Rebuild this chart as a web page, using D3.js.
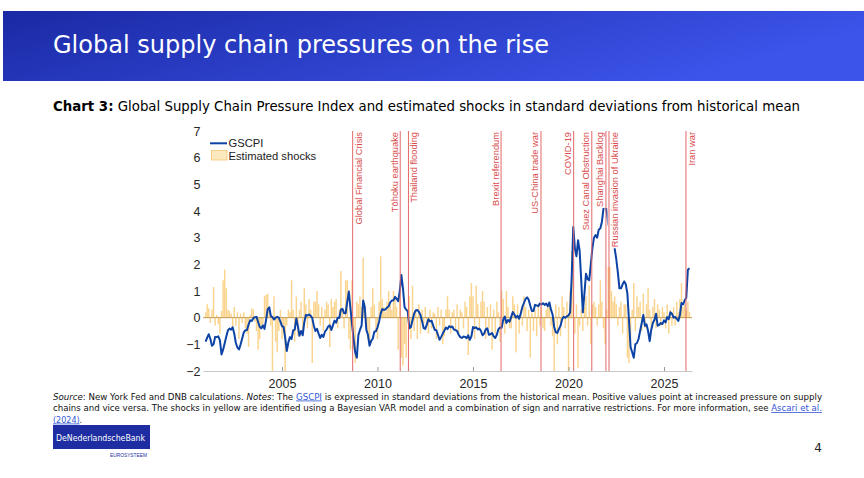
<!DOCTYPE html>
<html>
<head>
<meta charset="utf-8">
<script src="https://cdn.jsdelivr.net/npm/d3@7"></script>
<style>
  body { margin: 0; background: #fff; }
  svg { display: block; font-family: "Liberation Sans", Arial, sans-serif; }
</style>
</head>
<body>
<svg id="slide" width="864" height="478"></svg>
<script>
// monthly data, first value = Jan 2001
const startYear = 2001;

// GSCPI, one row per year
const gscpi = [
  -0.9, -0.75, -0.62, -0.8, -1.05, -1.0, -0.72, -0.73, -0.7, -0.85, -1.38, -1.2,
  -0.96, -0.71, -0.48, -0.41, -0.45, -0.36, -0.6, -0.95, -1.12, -1.19, -1.0, -0.78,
  -0.55, -0.47, -0.46, -0.26, -0.1, -0.12, -0.02, 0.02, 0.03, -0.16, -0.34, -0.4,
  -0.29, -0.42, -0.08, 0.31, 0.39, 0.06, 0.02, -0.07, 0.0, 0.03, 0.0, -0.15,
  -0.32, -0.35, -0.75, -1.25, -0.92, -0.73, -0.8, -0.48, -0.45, -0.03, -0.33, -0.68,
  -0.5, -0.66, -0.18, 0.1, 0.08, 0.12, 0.07, -0.01, -0.3, -0.5, -0.42, -0.6,
  -0.76, -0.64, -0.72, -0.52, -0.45, -0.33, -0.29, -0.46, -0.29, -0.11, -0.19, 0.0,
  -0.01, 0.3, 0.33, 0.17, 0.17, 0.6, 0.98, 0.35, -0.25, -0.8, -1.3, -1.5,
  -0.65, -0.45, -0.3, 0.64, 0.4, -0.46, -0.64, -1.05, -0.87, -0.79, -0.53, -0.51,
  -0.36, -0.15, 0.15, 0.32, 0.29, 0.31, 0.38, 0.42, 0.57, 0.64, 0.65, 0.78,
  0.71, 0.62, 1.0, 1.6, 1.1, 0.4, 0.3, 0.24, -0.4, -0.35, -0.1, 0.15,
  0.27, 0.29, 0.22, 0.1, -0.13, -0.39, -0.42, -0.25, -0.06, -0.14, -0.12, -0.3,
  -0.46, -0.47, -0.65, -0.83, -0.72, -0.6, -0.48, -0.37, -0.43, -0.32, -0.36, -0.33,
  -0.44, -0.47, -0.5, -0.64, -0.73, -0.76, -0.71, -0.72, -0.77, -0.66, -0.83, -0.7,
  -0.35, -0.39, -0.36, -0.44, -0.41, -0.5, -0.66, -0.6, -0.44, -0.4, -0.64, -0.62,
  -0.58, -0.7, -0.76, -0.63, -0.43, -0.37, -0.38, -0.07, 0.04, -0.2, -0.09, -0.15,
  0.03, 0.21, 0.12, 0.0, 0.07, -0.04, 0.15, 0.4, 0.55, 0.7, 0.76, 0.67,
  0.45, 0.25, 0.25, 0.48, 0.46, 0.43, 0.53, 0.49, 0.54, 0.48, 0.53, 0.43,
  0.57, 0.3, 0.12, -0.35, -0.55, -0.57, -0.42, -0.3, -0.06, 0.03, 0.0, 0.05,
  0.08, 0.2, 1.5, 3.4, 2.6, 2.3, 2.9, 2.5, 1.4, 0.2, 0.9, 1.65,
  1.45, 1.4, 2.0, 2.6, 3.0, 3.1, 3.0, 3.3, 3.35, 3.6, 4.1, 4.35,
  4.0, 3.5, 3.3, 3.2, 3.0, 2.6, 2.2, 1.7, 1.1, 1.1, 1.25, 1.36,
  1.25, 0.9, -0.1, -1.1, -1.3, -1.5, -1.0, -0.95, -0.8, -0.5, -0.2, 0.1,
  -0.3, -0.25, -0.5, -0.88, -0.45, -0.2, -0.08, 0.15, -0.3, -0.27, -0.2, -0.24,
  -0.1, -0.18, 0.02, -0.05, 0.2, 0.15, 0.0, 0.03, -0.04, -0.12, 0.1, 0.55,
  0.5, 0.65, 0.75, 1.8, 1.85
];

// estimated shocks, one row per year
const shocks = [
  0.2, 0.5, 0.35, -0.2, 0.3, 1.15, -0.3, 0.1, -0.25, -0.6, 0.25, 1.4,
  1.8, 1.1, 0.3, 0.25, 0.15, -0.4, 0.4, -0.3, 0.2, -0.8, 0.15, -0.2,
  0.2, -0.4, -0.6, -1.1, 0.1, 0.35, 0.3, -0.15, -0.5, -1.2, -0.8, -0.3,
  -0.25, 0.8, 0.85, 0.9, 0.4, -0.3, -2.0, 0.8, -0.9, -1.3, -0.5, 0.3,
  -0.8, -0.6, -2.0, -0.3, 0.3, 0.2, 1.4, 0.3, -0.9, 0.8, -0.7, 0.3,
  0.6, -0.6, 1.1, 0.5, -0.4, 0.7, 0.3, -1.7, 0.6, 0.6, 1.0, 0.5,
  -0.3, 0.4, -0.5, 0.3, 0.6, 0.5, -1.1, 0.7, 0.4, 0.6, 0.7, -0.4,
  0.3, 1.75, 0.3, -0.4, 1.4, 1.4, -0.8, -1.2, 1.4, -1.2, -1.7, 0.6,
  0.5, 0.8, 0.4, 2.25, 0.4, -0.3, -0.8, -0.9, 0.4, 1.1, 0.5, -0.5,
  -0.8, 0.6, 2.3, 0.7, 0.4, 0.2, 0.6, 1.0, 0.5, 0.3, 1.0, 0.8,
  0.4, -1.2, 0.9, -1.5, -1.8, -1.0, -1.5, 0.2, 0.8, -0.8, 1.2, -0.5,
  0.3, -0.8, 0.5, -0.6, 0.3, -0.2, 0.4, -0.3, -0.6, 0.3, -0.4, 0.2,
  0.15, -0.8, 0.4, -0.3, 0.3, -1.0, -0.7, 0.3, 0.8, 0.3, -0.6, 0.2,
  0.3, -0.5, 0.5, -0.6, 0.3, 0.2, -0.4, 0.6, 0.4, -1.4, 0.8, 1.3,
  0.8, -0.8, 1.2, 0.5, -0.4, 0.6, 1.0, 0.6, -0.8, 0.4, -0.4, 0.5,
  -1.2, 0.3, -0.6, 0.6, 0.2, -0.9, 1.0, 0.7, -0.6, 1.0, 0.4, -0.4,
  -0.4, 0.8, 0.5, -1.3, 0.5, -0.6, 0.3, -0.3, 0.8, 0.4, -0.5, 0.3,
  -1.5, 0.2, -0.5, 0.3, -0.7, 0.5, -0.3, 0.4, -0.4, -0.5, 0.3, 0.4,
  0.6, -0.3, -0.7, -2.0, 0.5, -1.0, 0.4, -0.7, 0.8, 0.4, -0.4, 0.6,
  -2.0, 1.0, 2.5, 1.5, -0.6, 0.5, -1.9, -0.3, 0.3, -0.5, 0.4, 0.8,
  -0.3, 1.2, -1.0, 0.5, 0.6, 0.4, -0.3, 0.5, 1.4, 0.6, -0.4, -1.0,
  0.3, 1.9, 1.9, 1.0, 0.6, 0.8, 0.5, -0.3, 0.4, 0.6, -0.6, 0.5,
  0.5, -1.5, -1.7, -0.8, 0.3, 1.3, -0.5, 0.8, 0.4, 0.6, -0.5, 0.9,
  -0.4, 0.5, 1.1, 0.3, -0.5, 0.4, 0.7, -0.4, 0.5, 0.3, -0.3, 0.4,
  0.2, -0.4, 0.5, -0.6, 0.3, -0.3, 0.4, -0.3, 0.6, 0.2, 0.7, 1.3,
  0.4, 0.5, 0.3, 0.6, 0.2
];

const eventNames = ["Global Financial Crisis", "Tōhoku earthquake", "Thailand flooding",
  "Brexit referendum", "US-China trade war", "COVID-19", "Suez Canal Obstruction",
  "Shanghai Backlog", "Russian invasion of Ukraine", "Iran war"];
const eventDates = [2008.70, 2011.19, 2011.62, 2016.47, 2018.56, 2020.27, 2021.22, 2021.96, 2022.12, 2026.15];

const yTicks = [-2, -1, 0, 1, 2, 3, 4, 5, 6, 7];
const xTicks = [2005, 2010, 2015, 2020, 2025];

const svg = d3.select("#slide");

// ---- banner ----
const defs = svg.append("defs");
const grad = defs.append("linearGradient").attr("id", "banner")
  .attr("x1", "0%").attr("y1", "0%").attr("x2", "100%").attr("y2", "30%");
grad.append("stop").attr("offset", "0%").attr("stop-color", "#1a29a4");
grad.append("stop").attr("offset", "100%").attr("stop-color", "#3c54ea");
svg.append("rect").attr("x", 3).attr("y", 11).attr("width", 861).attr("height", 70)
  .attr("fill", "url(#banner)");
svg.append("text").attr("x", 53).attr("y", 53)
  .attr("fill", "#fff").style("font-family", "'DejaVu Sans', sans-serif")
  .style("font-size", "24px")
  .attr("textLength", 496).attr("lengthAdjust", "spacingAndGlyphs")
  .text("Global supply chain pressures on the rise");

// ---- chart title ----
const ttl = svg.append("text").attr("x", 53).attr("y", 111)
  .style("font-family", "'DejaVu Sans', sans-serif").style("font-size", "14px")
  .attr("fill", "#000")
  .attr("textLength", 747).attr("lengthAdjust", "spacingAndGlyphs");
ttl.append("tspan").style("font-weight", "bold").text("Chart 3:");
ttl.append("tspan").text(" Global Supply Chain Pressure Index and estimated shocks in standard deviations from historical mean");

// ---- plot ----
const margin = {left: 203, right: 692, top: 131, bottom: 371};
const x = d3.scaleLinear().domain([2000.864, 2026.466]).range([margin.left, margin.right]);
const y = d3.scaleLinear().domain([-2, 7]).range([margin.bottom, margin.top]);
const monthYear = i => startYear + i / 12;
const barW = (x(2001 + 1 / 12) - x(2001)) * 0.9;

const plot = svg.append("g");

// bars
plot.append("g").selectAll("rect")
  .data(shocks)
  .join("rect")
  .attr("x", (d, i) => x(monthYear(i)) - barW / 2)
  .attr("width", barW)
  .attr("y", d => y(Math.max(0, d)))
  .attr("height", d => Math.abs(y(d) - y(0)))
  .attr("fill", "#f9c66c")
  .attr("fill-opacity", 0.78);

// zero baseline
plot.append("line")
  .attr("x1", margin.left).attr("x2", margin.right)
  .attr("y1", y(0)).attr("y2", y(0))
  .attr("stroke", "#c49a4e").attr("stroke-width", 1);

// GSCPI line
const line = d3.line().x((d, i) => x(monthYear(i))).y(d => y(d));
plot.append("path").datum(gscpi)
  .attr("d", line)
  .attr("fill", "none")
  .attr("stroke", "#0d43a5")
  .attr("stroke-width", 2)
  .attr("stroke-linejoin", "round");

// event labels on white boxes, then the event lines
const rightSide = new Set([0, 2, 8, 9]);
const labelG = plot.append("g");
eventNames.forEach((name, i) => {
  const ex = x(eventDates[i]);
  const bx = rightSide.has(i) ? ex + 9 : ex - 2.5;
  const g = labelG.append("g").attr("transform", `translate(${bx},${margin.top + 1}) rotate(-90)`);
  const rect = g.append("rect");
  const t = g.append("text")
    .attr("text-anchor", "end")
    .style("font-size", "9.3px")
    .attr("fill", "#d94c4c")
    .text(name);
  const bb = t.node().getBBox();
  rect.attr("x", bb.x - 1).attr("y", bb.y - 2.5)
    .attr("width", bb.width + 2).attr("height", bb.height + 5)
    .attr("fill", "#fff");
});
plot.append("g").selectAll("line")
  .data(eventDates)
  .join("line")
  .attr("x1", d => x(d)).attr("x2", d => x(d))
  .attr("y1", margin.top).attr("y2", margin.bottom)
  .attr("stroke", "#e46868").attr("stroke-width", 1);

// axes
const xAxis = svg.append("g").attr("transform", `translate(0,${margin.bottom})`)
  .call(d3.axisBottom(x).tickValues(xTicks).tickFormat(d3.format("d")).tickSizeInner(-4).tickSizeOuter(0).tickPadding(8));
xAxis.select(".domain").attr("stroke", "#c8c8c8");
xAxis.selectAll(".tick line").attr("stroke", "#9a9a9a");
xAxis.selectAll("text").style("font-size", "12.5px").attr("fill", "#262626")
  .style("font-family", "'Liberation Sans', Arial, sans-serif");

const yAxis = svg.append("g").attr("transform", `translate(${margin.left - 2.5},0)`)
  .call(d3.axisLeft(y).tickValues(yTicks).tickFormat(d3.format("d")).tickSize(0).tickPadding(0));
yAxis.select(".domain").remove();
yAxis.selectAll("text").style("font-size", "12.5px").attr("fill", "#262626")
  .style("font-family", "'Liberation Sans', Arial, sans-serif");

// legend
const lg = svg.append("g").style("font-size", "11.2px").attr("fill", "#1a1a1a");
lg.append("line").attr("x1", 210).attr("x2", 227).attr("y1", 143.3).attr("y2", 143.3)
  .attr("stroke", "#0d43a5").attr("stroke-width", 2);
lg.append("text").attr("x", 228.5).attr("y", 147.3).text("GSCPI");
lg.append("rect").attr("x", 211.5).attr("y", 150.5).attr("width", 15.5).attr("height", 9.5)
  .attr("fill", "#fde9bf").attr("stroke", "#f3c672").attr("stroke-width", 0.8);
lg.append("text").attr("x", 228.5).attr("y", 160).text("Estimated shocks");

// ---- footnote ----
const note = svg.append("g").style("font-family", "'DejaVu Sans', sans-serif")
  .style("font-size", "8px").attr("fill", "#111");
const linkColor = "#3557d6";
const l1 = note.append("text").attr("x", 53).attr("y", 399.5)
  .attr("textLength", 769).attr("lengthAdjust", "spacingAndGlyphs");
l1.append("tspan").style("font-style", "italic").text("Source");
l1.append("tspan").text(": New York Fed and DNB calculations. ");
l1.append("tspan").style("font-style", "italic").text("Notes");
l1.append("tspan").text(": The ");
l1.append("tspan").attr("fill", linkColor).style("text-decoration", "underline").text("GSCPI");
l1.append("tspan").text(" is expressed in standard deviations from the historical mean. Positive values point at increased pressure on supply");
const l2 = note.append("text").attr("x", 53).attr("y", 411)
  .attr("textLength", 769).attr("lengthAdjust", "spacingAndGlyphs");
l2.append("tspan").text("chains and vice versa. The shocks in yellow are identified using a Bayesian VAR model and a combination of sign and narrative restrictions. For more information, see ");
l2.append("tspan").attr("fill", linkColor).style("text-decoration", "underline").text("Ascari et al.");
const l3 = note.append("text").attr("x", 53).attr("y", 422.5);
l3.append("tspan").attr("fill", linkColor).style("text-decoration", "underline").text("(2024)");
l3.append("tspan").text(".");

// ---- logo and page number ----
svg.append("rect").attr("x", 53).attr("y", 425).attr("width", 97).attr("height", 24).attr("fill", "#1e2ea2");
svg.append("text").attr("x", 56).attr("y", 440.5).attr("fill", "#fff")
  .style("font-family", "'DejaVu Sans', sans-serif").style("font-size", "8px")
  .attr("textLength", 89).attr("lengthAdjust", "spacingAndGlyphs")
  .text("DeNederlandscheBank");
svg.append("text").attr("x", 110).attr("y", 457).attr("fill", "#1e2ea2")
  .style("font-size", "4.5px").attr("textLength", 37).attr("lengthAdjust", "spacingAndGlyphs")
  .text("EUROSYSTEEM");
svg.append("text").attr("x", 822).attr("y", 452).attr("text-anchor", "end")
  .style("font-family", "'DejaVu Sans', sans-serif").style("font-size", "12px").attr("fill", "#222")
  .text("4");
</script>
</body>
</html>
